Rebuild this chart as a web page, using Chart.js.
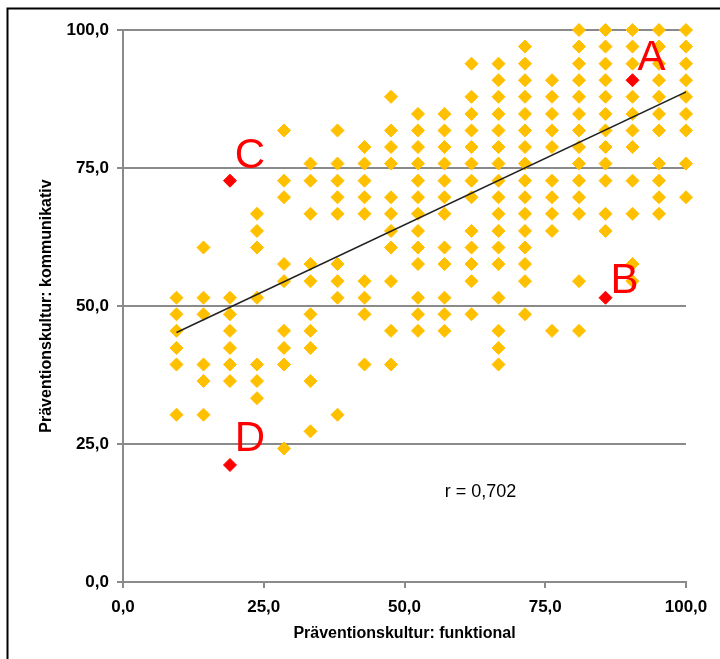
<!DOCTYPE html>
<html>
<head>
<meta charset="utf-8">
<script src="https://cdn.jsdelivr.net/npm/chart.js@4"></script>
<style>
  body { margin: 0; background: #fff; }
  #wrap { width: 720px; height: 659px; position: relative; }
</style>
</head>
<body>
<div id="wrap"><canvas id="myChart" width="720" height="659"></canvas></div>
<script>
// x positions of the answer columns (funktional)
const columnX = [9.5, 14.3, 19.0, 23.8, 28.6, 33.3, 38.1, 42.9, 47.6, 52.4,
                 57.1, 61.9, 66.7, 71.4, 76.2, 81.0, 85.7, 90.5, 95.2, 100];
// y values found in each column (kommunikativ)
const columnY = [
  [51.5, 48.5, 45.5, 42.4, 39.4, 30.3],
  [60.6, 51.5, 48.5, 39.4, 36.4, 30.3],
  [51.5, 48.5, 45.5, 42.4, 39.4, 36.4],
  [66.7, 63.6, 60.6, 51.5, 39.4, 36.4, 33.3],
  [81.8, 72.7, 69.7, 57.6, 54.5, 45.5, 42.4, 39.4, 24.2],
  [75.8, 72.7, 66.7, 57.6, 54.5, 48.5, 45.5, 42.4, 36.4, 27.3],
  [81.8, 75.8, 72.7, 69.7, 66.7, 57.6, 54.5, 51.5, 30.3],
  [78.8, 75.8, 72.7, 69.7, 66.7, 54.5, 51.5, 48.5, 39.4],
  [87.9, 81.8, 78.8, 75.8, 69.7, 66.7, 63.6, 60.6, 54.5, 45.5, 39.4],
  [84.8, 81.8, 78.8, 75.8, 72.7, 69.7, 66.7, 63.6, 60.6, 57.6, 51.5, 48.5, 45.5],
  [84.8, 81.8, 78.8, 75.8, 72.7, 69.7, 66.7, 60.6, 57.6, 51.5, 48.5, 45.5],
  [93.9, 87.9, 84.8, 81.8, 78.8, 75.8, 72.7, 69.7, 63.6, 60.6, 57.6, 54.5, 48.5],
  [93.9, 90.9, 87.9, 84.8, 81.8, 78.8, 75.8, 72.7, 69.7, 66.7, 63.6, 60.6, 57.6, 51.5, 45.5, 42.4, 39.4],
  [97.0, 93.9, 90.9, 87.9, 84.8, 81.8, 78.8, 75.8, 72.7, 69.7, 66.7, 63.6, 60.6, 57.6, 54.5, 48.5],
  [90.9, 87.9, 84.8, 81.8, 78.8, 72.7, 69.7, 66.7, 63.6, 45.5],
  [100, 97.0, 93.9, 90.9, 87.9, 84.8, 81.8, 78.8, 75.8, 72.7, 69.7, 66.7, 54.5, 45.5],
  [100, 97.0, 93.9, 90.9, 87.9, 84.8, 81.8, 78.8, 75.8, 72.7, 66.7, 63.6],
  [100, 97.0, 93.9, 87.9, 84.8, 81.8, 78.8, 72.7, 66.7, 57.6, 54.5],
  [100, 97.0, 93.9, 90.9, 87.9, 84.8, 81.8, 75.8, 72.7, 69.7, 66.7],
  [100, 97.0, 93.9, 90.9, 87.9, 84.8, 81.8, 75.8, 69.7]
];

// highlighted cases
const markNames = ['A', 'B', 'C', 'D'];
const markX = [90.5, 85.7, 19.0, 19.0];
const markY = [90.9, 51.5, 72.7, 21.2];

// linear trend
const trendX = [9.5, 100];
const trendY = [45.2, 88.8];
const corrText = 'r = 0,702';
const corrPos = [63.5, 16.3];

const tickValues = [0, 25, 50, 75, 100];
const tickLabels = ['0,0', '25,0', '50,0', '75,0', '100,0'];

// label offsets in px from each red point (style only)
const markOffsets = [[19, -10], [19, -5], [20, -13], [20, -14]];

const yellowPts = [];
columnX.forEach((x, i) => {
  columnY[i].forEach(y => yellowPts.push({x: x, y: y}));
});
const redPts = markX.map((x, i) => ({x: x, y: markY[i]}));
const trendPts = trendX.map((x, i) => ({x: x, y: trendY[i]}));

const gridGray = '#8a8a8a';

const extras = {
  id: 'extras',
  beforeDraw(chart) {
    const c = chart.ctx;
    c.save();
    c.fillStyle = '#fff';
    c.fillRect(0, 0, chart.width, chart.height);
    // outer frame (only top and left visible)
    c.strokeStyle = '#000';
    c.lineWidth = 2;
    c.beginPath();
    c.moveTo(7.5, chart.height);
    c.lineTo(7.5, 8.5);
    c.lineTo(chart.width, 8.5);
    c.stroke();
    c.restore();
  },
  afterDraw(chart) {
    const c = chart.ctx;
    const xs = chart.scales.x, ys = chart.scales.y;
    c.save();
    c.fillStyle = '#ff0000';
    c.font = '42px "Liberation Sans", Arial, sans-serif';
    c.textAlign = 'center';
    c.textBaseline = 'alphabetic';
    markNames.forEach((n, i) => {
      const px = xs.getPixelForValue(markX[i]) + markOffsets[i][0];
      const py = ys.getPixelForValue(markY[i]) + markOffsets[i][1];
      c.fillText(n, px, py);
    });
    c.fillStyle = '#000';
    c.font = '18px "Liberation Sans", Arial, sans-serif';
    c.textBaseline = 'middle';
    c.fillText(corrText, xs.getPixelForValue(corrPos[0]), ys.getPixelForValue(corrPos[1]));
    c.restore();
  }
};

const tickFont = {family: '"Liberation Sans", Arial, sans-serif', size: 17, weight: 'bold'};
const titleFont = {family: '"Liberation Sans", Arial, sans-serif', size: 16, weight: 'bold'};

let ctx = document.getElementById('myChart').getContext('2d');
let chart = new Chart(ctx, {
  type: 'scatter',
  data: {
    datasets: [
      {
        type: 'line',
        label: 'Trend',
        data: trendPts,
        borderColor: '#222',
        borderWidth: 1.5,
        pointRadius: 0,
        fill: false
      },
      {
        label: 'Fälle',
        data: redPts,
        pointStyle: 'rectRot',
        pointRadius: 6.5,
        pointBackgroundColor: '#ff0000',
        pointBorderColor: '#ff0000',
        pointBorderWidth: 1,
        clip: false
      },
      {
        label: 'Betriebe',
        data: yellowPts,
        pointStyle: 'rectRot',
        pointRadius: 6.5,
        pointBackgroundColor: '#ffc000',
        pointBorderColor: '#ffc000',
        pointBorderWidth: 1,
        clip: false
      }
    ]
  },
  options: {
    responsive: false,
    animation: false,
    layout: {autoPadding: false, padding: {left: 0, right: 34, top: 30, bottom: 0}},
    plugins: {legend: {display: false}, tooltip: {enabled: false}},
    scales: {
      x: {
        type: 'linear',
        min: 0, max: 100,
        afterFit(scale) { scale.height = 77; },
        afterBuildTicks(scale) { scale.ticks = tickValues.map(v => ({value: v})); },
        ticks: {
          color: '#000',
          font: tickFont,
          padding: 9,
          maxRotation: 0,
          callback: (v) => tickLabels[tickValues.indexOf(v)]
        },
        grid: {drawOnChartArea: false, drawTicks: true, tickLength: 6, color: gridGray, lineWidth: 2},
        border: {display: true, color: gridGray, width: 2},
        title: {
          display: true,
          text: 'Präventionskultur: funktional',
          color: '#000',
          font: titleFont,
          padding: {top: 0, bottom: 16}
        }
      },
      y: {
        type: 'linear',
        min: 0, max: 100,
        afterFit(scale) { scale.width = 123; },
        afterBuildTicks(scale) { scale.ticks = tickValues.map(v => ({value: v})); },
        ticks: {
          color: '#000',
          font: tickFont,
          padding: 8,
          callback: (v) => tickLabels[tickValues.indexOf(v)]
        },
        grid: {color: gridGray, lineWidth: 2, tickLength: 6},
        border: {display: true, color: gridGray, width: 2},
        title: {
          display: true,
          text: 'Präventionskultur: kommunikativ',
          color: '#000',
          font: titleFont,
          padding: {top: 37, bottom: 0}
        }
      }
    }
  },
  plugins: [extras]
});
</script>
</body>
</html>
